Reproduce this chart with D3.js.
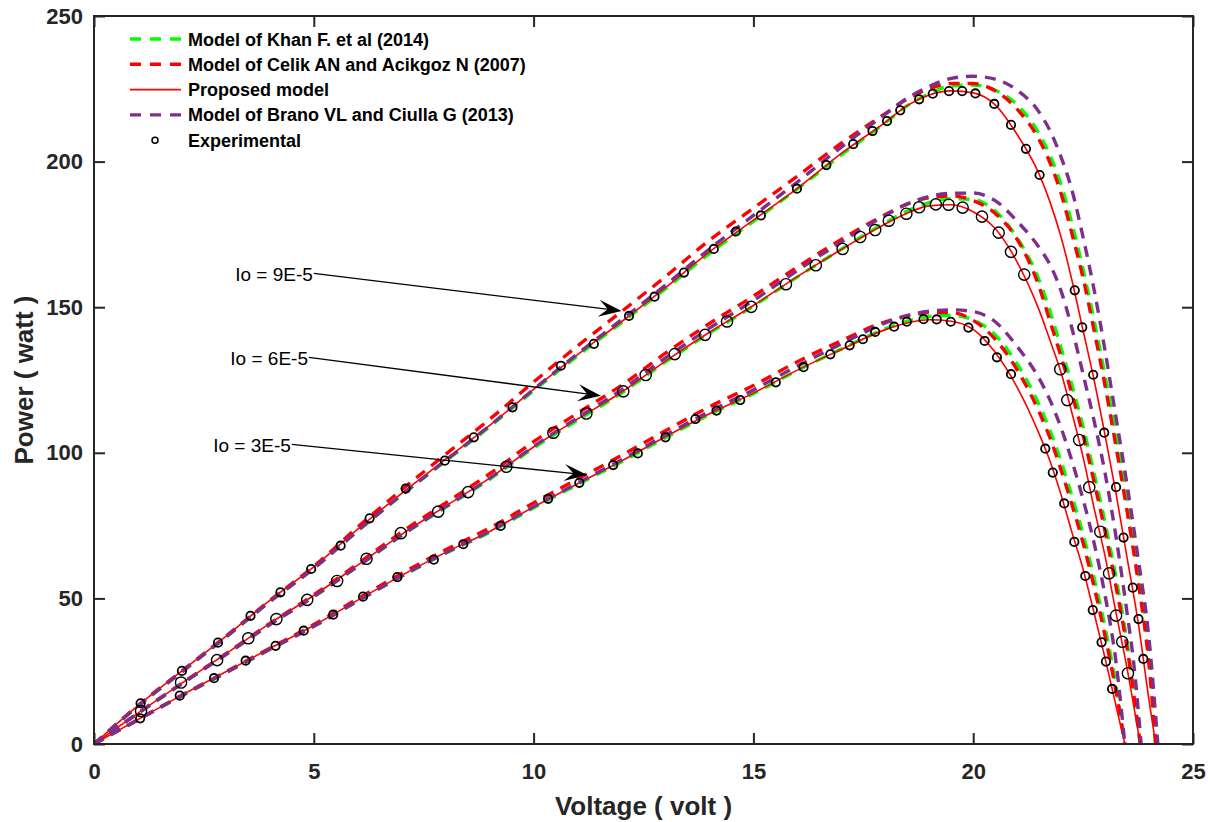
<!DOCTYPE html>
<html>
<head>
<meta charset="utf-8">
<script src="https://cdn.jsdelivr.net/npm/d3@7"></script>
<style>
  html, body { margin: 0; padding: 0; background: #ffffff; }
  svg { display: block; }
  text { font-family: "Liberation Sans", Arial, Helvetica, sans-serif; }
</style>
</head>
<body>
<svg id="chart" width="1210" height="822"></svg>
<script>
// ---------------------------------------------------------------
// P–V curves of a PV module for three saturation currents (Io)
// Each series: [voltage (V), power (W)]
// ---------------------------------------------------------------

// Model of Khan F. et al (2014)
const khan9 = [[0,0],[1,13.0],[2,24.8],[3,36.7],[4,48.9],[5,60.3],[6,73.2],[7,85.5],[8,97.2],[9,108.9],[10,121.3],[11,133.3],[12,144.7],[13,156.3],[14,168.4],[15,179.5],[16,190.6],[17,202.3],[18,213.3],[18.5,219.2],[19,223.3],[19.5,226.0],[20,226.3],[20.5,224.5],[21,219.5],[21.5,209.5],[21.75,202],[22,192],[22.25,178.5],[22.5,163],[22.75,145.5],[23,126.5],[23.25,106],[23.5,84],[23.75,60],[24,31],[24.15,0]];
const khan6 = [[0,0],[1,10.5],[2,20.7],[3,30.7],[4,41.0],[5,50.6],[6,61.0],[7,71.6],[8,81.3],[9,90.9],[10,101.6],[11,111.2],[12,120.5],[13,131.2],[14,141.1],[15,150.4],[16,160.4],[17,169.9],[18,179.0],[18.5,183.0],[19,185.9],[19.5,187.3],[20,187.0],[20.5,183.0],[21,173.8],[21.5,159.3],[21.75,148.5],[22,136],[22.25,123],[22.5,109],[22.75,93],[23,76],[23.25,57],[23.5,35],[23.8,0]];
const khan3 = [[0,0],[1,8.3],[2,16.6],[3,24.5],[4,32.5],[5,40.4],[6,49.1],[7,57.6],[8,65.5],[9,72.7],[10,81.1],[11,89.1],[12,96.9],[13,105.2],[14,113.1],[15,120.3],[16,128.3],[17,135.6],[18,142.6],[18.5,145.2],[19,146.8],[19.5,147.2],[20,145.6],[20.5,140.5],[21,130.5],[21.5,116.5],[21.75,107.5],[22,97],[22.25,85],[22.5,72],[22.75,57],[23,40],[23.25,20],[23.45,0]];

// Model of Celik AN and Acikgoz N (2007)
const celik9 = [[0,0],[1,13.2],[2,25.1],[3,37.0],[4,49.3],[5,61.0],[6,74.5],[7,87.3],[8,99.5],[9,111.5],[10,124.3],[11,136.7],[12,148.5],[13,160.5],[14,173.0],[15,184.0],[16,195.0],[17,206.3],[18,216.5],[18.5,221.5],[19,225.0],[19.5,226.8],[20,226.8],[20.5,224.3],[21,218],[21.5,207.5],[21.75,199.5],[22,189],[22.25,175],[22.5,160],[22.75,142],[23,123],[23.25,102],[23.5,80],[23.75,56],[24,27],[24.15,0]];
const celik6 = [[0,0],[1,10.6],[2,20.9],[3,31.0],[4,41.4],[5,51.2],[6,61.9],[7,72.8],[8,82.8],[9,92.8],[10,103.8],[11,113.6],[12,123.2],[13,134.2],[14,144.4],[15,153.8],[16,163.8],[17,173.3],[18,181.8],[18.5,185.4],[19,187.6],[19.5,188.2],[20,186.6],[20.5,182.2],[21,173.3],[21.5,157],[21.75,145],[22,133],[22.25,120],[22.5,106],[22.75,90],[23,73],[23.25,54],[23.5,33],[23.8,0]];
const celik3 = [[0,0],[1,8.4],[2,16.8],[3,24.8],[4,32.9],[5,41.0],[6,49.9],[7,58.6],[8,66.7],[9,74.2],[10,82.8],[11,91.0],[12,99.1],[13,107.6],[14,115.8],[15,123.1],[16,131.3],[17,138.5],[18,145.0],[18.5,146.9],[19,148.2],[19.5,148.2],[20,145.5],[20.5,139],[21,128.5],[21.5,114],[21.75,105],[22,94],[22.25,82],[22.5,69],[22.75,54],[23,37],[23.25,18],[23.45,0]];

// Proposed model
const proposed9 = [[0,0],[1,13.2],[2,25.1],[3,37.0],[4,49.3],[5,60.8],[6,73.8],[7,86.1],[8,97.8],[9,109.4],[10,121.8],[11,133.7],[12,145.0],[13,156.7],[14,169.0],[15,179.9],[16,190.8],[17,202.8],[18,213.5],[18.5,219.2],[19,222.9],[19.5,224.3],[20,223.6],[20.5,219.5],[21,209.3],[21.5,195.7],[21.75,186],[22,174],[22.25,159],[22.5,142],[22.75,125],[23,106],[23.25,86],[23.5,64],[23.75,42],[24,15],[24.15,0]];
const proposed6 = [[0,0],[1,10.6],[2,20.9],[3,31.0],[4,41.4],[5,51.0],[6,61.4],[7,72.0],[8,81.7],[9,91.3],[10,102.0],[11,111.6],[12,120.8],[13,131.5],[14,141.4],[15,150.6],[16,160.5],[17,169.8],[18,178.6],[18.5,182.3],[19,184.8],[19.5,185.2],[20,182.8],[20.5,177],[21,165.5],[21.5,149],[21.75,138.5],[22,127.5],[22.25,113.5],[22.5,98.5],[22.75,81],[23,64.5],[23.25,45],[23.5,26],[23.8,0]];
const proposed3 = [[0,0],[1,8.4],[2,16.8],[3,24.8],[4,32.8],[5,40.7],[6,49.4],[7,57.9],[8,65.8],[9,73.0],[10,81.4],[11,89.4],[12,97.2],[13,105.5],[14,113.4],[15,120.5],[16,128.4],[17,135.5],[18,142.3],[18.5,144.6],[19,145.7],[19.5,145.2],[20,142.4],[20.5,134.5],[21,122.5],[21.5,106.5],[21.75,97],[22,85.5],[22.25,72.5],[22.5,60],[22.75,45],[23,29.5],[23.25,13],[23.45,0]];

// Model of Brano VL and Ciulla G (2013)
const brano9 = [[0,0],[1,13.0],[2,24.8],[3,36.7],[4,48.9],[5,60.3],[6,73.2],[7,85.6],[8,97.4],[9,109.3],[10,121.8],[11,134.0],[12,145.7],[13,157.6],[14,170.0],[15,181.5],[16,193.0],[17,205.0],[18,216.3],[18.5,221.8],[19,225.8],[19.5,228.6],[20,229.3],[20.5,228.3],[21,224.5],[21.5,217],[21.75,210.5],[22,201.5],[22.25,190],[22.5,174],[22.75,156],[23,135],[23.25,112],[23.5,89],[23.75,64],[24,36],[24.2,0]];
const brano6 = [[0,0],[1,10.5],[2,20.7],[3,30.7],[4,41.0],[5,50.6],[6,61.0],[7,71.7],[8,81.5],[9,91.3],[10,102.2],[11,112.0],[12,121.6],[13,132.6],[14,142.8],[15,152.3],[16,162.6],[17,172.4],[18,181.5],[18.5,185.5],[19,188.0],[19.5,189.1],[20,189.2],[20.5,186.6],[21,179.5],[21.5,170.5],[21.75,164.5],[22,155.5],[22.25,142.5],[22.5,127],[22.75,111],[23,93],[23.25,71],[23.5,45],[23.65,28],[23.82,0]];
const brano3 = [[0,0],[1,8.3],[2,16.6],[3,24.5],[4,32.5],[5,40.4],[6,49.1],[7,57.7],[8,65.7],[9,73.0],[10,81.5],[11,89.6],[12,97.6],[13,106.1],[14,114.2],[15,121.6],[16,129.8],[17,137.4],[18,144.6],[18.5,147.2],[19,148.6],[19.5,149.1],[20,148.5],[20.5,145.0],[21,136.5],[21.5,125.5],[21.75,118],[22,108.5],[22.25,97],[22.5,84],[22.75,69],[23,51],[23.25,28],[23.45,0]];

// Experimental measurements
const exp9 = [[1.06,14.0],[2.0,25.1],[2.82,34.8],[3.56,44.0],[4.24,52.1],[4.94,60.1],[5.61,68.1],[6.27,77.5],[7.09,87.7],[7.98,97.3],[8.64,105.3],[9.52,115.6],[10.62,129.9],[11.37,137.4],[12.17,147.0],[12.75,153.6],[13.42,161.9],[14.10,170.0],[14.6,176.0],[15.17,181.5],[15.99,190.7],[16.66,198.8],[17.27,206.0],[17.71,210.5],[18.04,213.9],[18.34,217.6],[18.77,221.4],[19.08,223.3],[19.45,224.2],[19.75,224.2],[20.05,223.4],[20.48,219.8],[20.86,212.6],[21.2,204.4],[21.51,195.4],[22.31,155.8],[22.48,143.1],[22.73,126.8],[22.98,106.9],[23.25,88.2],[23.42,70.9],[23.63,53.7],[23.76,42.9],[23.87,29.2]];
const exp6 = [[1.07,11.3],[1.98,21.1],[2.80,28.8],[3.51,36.3],[4.15,42.9],[4.85,49.5],[5.53,56.0],[6.20,63.6],[6.98,72.4],[7.83,79.8],[8.51,86.5],[9.38,95.2],[10.45,106.9],[11.2,113.5],[12.04,121.1],[12.55,126.7],[13.21,133.9],[13.9,140.5],[14.4,145.1],[14.95,150.1],[15.74,157.9],[16.42,164.4],[17.03,170.0],[17.43,174.1],[17.77,176.5],[18.08,179.7],[18.48,182.1],[18.77,184.3],[19.15,185.3],[19.44,185.2],[19.76,184.2],[20.2,181.1],[20.58,175.6],[20.86,169.0],[21.16,161.2],[21.98,128.7],[22.14,118.1],[22.41,104.4],[22.64,88.2],[22.89,72.9],[23.09,58.6],[23.25,44.1],[23.39,35.1],[23.52,24.3]];
const exp3 = [[1.05,8.8],[1.95,16.6],[2.73,22.6],[3.45,28.6],[4.13,33.7],[4.77,38.9],[5.44,44.4],[6.12,50.6],[6.9,57.3],[7.73,63.3],[8.4,68.6],[9.25,74.9],[10.33,84.2],[11.04,89.7],[11.81,95.8],[12.37,99.8],[13.0,105.3],[13.68,111.6],[14.16,114.5],[14.7,118.1],[15.51,124.2],[16.14,129.4],[16.75,133.8],[17.19,136.9],[17.49,139.0],[17.77,141.5],[18.2,143.3],[18.49,145.0],[18.87,145.9],[19.17,145.8],[19.49,145.0],[19.89,143.0],[20.26,138.4],[20.54,132.8],[20.86,127.0],[21.64,101.4],[21.81,93.2],[22.07,82.6],[22.3,69.4],[22.55,57.7],[22.72,46.0],[22.92,34.9],[23.02,28.3],[23.16,18.9]];

// Axis ticks and labels
const xTicks = [0, 5, 10, 15, 20, 25];
const yTicks = [0, 50, 100, 150, 200, 250];
const xLabel = "Voltage ( volt )";
const yLabel = "Power ( watt )";

// Legend entries
const legendLabels = [
  "Model of Khan F. et al (2014)",
  "Model of Celik AN and Acikgoz N (2007)",
  "Proposed model",
  "Model of Brano VL and Ciulla G (2013)",
  "Experimental"
];

// Io annotations: text, arrow tail and tip in data units (V, W)
const ioLabels = ["Io = 9E-5", "Io = 6E-5", "Io = 3E-5"];
const ioTails = [[5.0, 161.6], [4.89, 132.8], [4.50, 102.9]];
const ioTips = [[12.0, 148.7], [11.53, 119.6], [11.22, 92.4]];

// ---------------------------------------------------------------
const svg = d3.select("#chart");
const frame = { left: 94, right: 1193, top: 16, bottom: 744 };
const axisColor = "#262626";

const x = d3.scaleLinear().domain([0, 25]).range([frame.left, frame.right]);
const y = d3.scaleLinear().domain([0, 250]).range([frame.bottom, frame.top]);

const line = d3.line()
  .x(d => x(d[0]))
  .y(d => y(d[1]))
  .curve(d3.curveMonotoneX);

const series = [
  { sets: [khan9, khan6, khan3], color: "#00ff00", width: 3.4, dash: "11,8" },
  { sets: [celik9, celik6, celik3], color: "#ff0000", width: 3.4, dash: "11,8" },
  { sets: [proposed9, proposed6, proposed3], color: "#ff0000", width: 1.6, dash: null },
  { sets: [brano9, brano6, brano3], color: "#7e2f8e", width: 3.4, dash: "11,8" }
];

svg.append("defs").append("clipPath").attr("id", "plotArea")
  .append("rect")
  .attr("x", frame.left).attr("y", frame.top - 4)
  .attr("width", frame.right - frame.left).attr("height", frame.bottom - frame.top + 4);

const plot = svg.append("g").attr("clip-path", "url(#plotArea)");

series.forEach(s => {
  s.sets.forEach(data => {
    plot.append("path")
      .datum(data)
      .attr("d", line)
      .attr("fill", "none")
      .attr("stroke", s.color)
      .attr("stroke-width", s.width)
      .attr("stroke-dasharray", s.dash)
      .attr("stroke-linejoin", "round");
  });
});

// Experimental markers
const markerSets = [
  { data: exp9, r: 4.2, sw: 1.8 },
  { data: exp6, r: 5.6, sw: 1.4 },
  { data: exp3, r: 4.2, sw: 1.8 }
];
markerSets.forEach(m => {
  plot.append("g").selectAll("circle")
    .data(m.data)
    .join("circle")
    .attr("cx", d => x(d[0]))
    .attr("cy", d => y(d[1]))
    .attr("r", m.r)
    .attr("fill", "none")
    .attr("stroke", "#000")
    .attr("stroke-width", m.sw);
});

// Axes (ticks pointing inward on all four sides)
const tickLen = 11;
const fontTick = "22px";

const gx = svg.append("g")
  .attr("transform", `translate(0,${frame.bottom})`)
  .call(d3.axisBottom(x).tickValues(xTicks).tickSize(-tickLen).tickSizeOuter(0).tickPadding(19).tickFormat(d3.format("d")));
const gy = svg.append("g")
  .attr("transform", `translate(${frame.left},0)`)
  .call(d3.axisLeft(y).tickValues(yTicks).tickSize(-tickLen).tickSizeOuter(0).tickPadding(11).tickFormat(d3.format("d")));
const gxTop = svg.append("g")
  .attr("transform", `translate(0,${frame.top})`)
  .call(d3.axisTop(x).tickValues(xTicks).tickSize(-tickLen).tickSizeOuter(0).tickFormat(""));
const gyRight = svg.append("g")
  .attr("transform", `translate(${frame.right},0)`)
  .call(d3.axisRight(y).tickValues(yTicks).tickSize(-tickLen).tickSizeOuter(0).tickFormat(""));

[gx, gy, gxTop, gyRight].forEach(g => {
  g.select(".domain").remove();
  g.selectAll(".tick line").attr("stroke", axisColor).attr("stroke-width", 2);
  g.selectAll(".tick text")
    .attr("fill", axisColor)
    .style("font-family", '"Liberation Sans", Arial, sans-serif')
    .style("font-size", fontTick)
    .style("font-weight", "bold");
});

svg.append("rect")
  .attr("x", frame.left).attr("y", frame.top)
  .attr("width", frame.right - frame.left).attr("height", frame.bottom - frame.top)
  .attr("fill", "none").attr("stroke", axisColor).attr("stroke-width", 2);

// Axis titles
svg.append("text")
  .attr("x", (frame.left + frame.right) / 2)
  .attr("y", 815)
  .attr("text-anchor", "middle")
  .attr("fill", axisColor)
  .style("font-size", "26px").style("font-weight", "bold")
  .text(xLabel);

svg.append("text")
  .attr("transform", `translate(33,${(frame.top + frame.bottom) / 2}) rotate(-90)`)
  .attr("text-anchor", "middle")
  .attr("fill", axisColor)
  .style("font-size", "26px").style("font-weight", "bold")
  .text(yLabel);

// Legend
const legend = svg.append("g");
const legendStyles = [
  { color: "#00ff00", width: 3.4, dash: "11,9", marker: false },
  { color: "#ff0000", width: 3.4, dash: "11,9", marker: false },
  { color: "#ff0000", width: 1.6, dash: null, marker: false },
  { color: "#7e2f8e", width: 3.4, dash: "11,9", marker: false },
  { color: "#000000", width: 1.5, dash: null, marker: true }
];
legendLabels.forEach((label, i) => {
  const base = 45.5 + i * 25.3;
  const cy = base - 6.5;
  const st = legendStyles[i];
  if (st.marker) {
    legend.append("circle")
      .attr("cx", 155).attr("cy", cy).attr("r", 3)
      .attr("fill", "none").attr("stroke", "#000").attr("stroke-width", 1.5);
  } else {
    legend.append("line")
      .attr("x1", 130).attr("x2", 181).attr("y1", cy).attr("y2", cy)
      .attr("stroke", st.color).attr("stroke-width", st.width)
      .attr("stroke-dasharray", st.dash);
  }
  legend.append("text")
    .attr("x", 188).attr("y", base)
    .attr("fill", "#000")
    .style("font-size", "18px").style("font-weight", "bold")
    .text(label);
});

// Io annotations with arrows
const ann = svg.append("g");
ioLabels.forEach((label, i) => {
  const [tx, ty] = [x(ioTails[i][0]), y(ioTails[i][1])];
  const [hx, hy] = [x(ioTips[i][0]), y(ioTips[i][1])];
  ann.append("text")
    .attr("x", tx - 1).attr("y", ty + 7.3)
    .attr("text-anchor", "end")
    .attr("fill", "#000")
    .style("font-size", "19px")
    .text(label);
  const ang = Math.atan2(hy - ty, hx - tx);
  const L = 23;
  ann.append("line")
    .attr("x1", tx).attr("y1", ty)
    .attr("x2", hx - L * 0.55 * Math.cos(ang))
    .attr("y2", hy - L * 0.55 * Math.sin(ang))
    .attr("stroke", "#000").attr("stroke-width", 1.3);
  ann.append("path")
    .attr("d", `M0,0 L${-L},${-8.5} L${-L * 0.6},0 L${-L},8.5 Z`)
    .attr("transform", `translate(${hx},${hy}) rotate(${ang * 180 / Math.PI})`)
    .attr("fill", "#000");
});
</script>
</body>
</html>
